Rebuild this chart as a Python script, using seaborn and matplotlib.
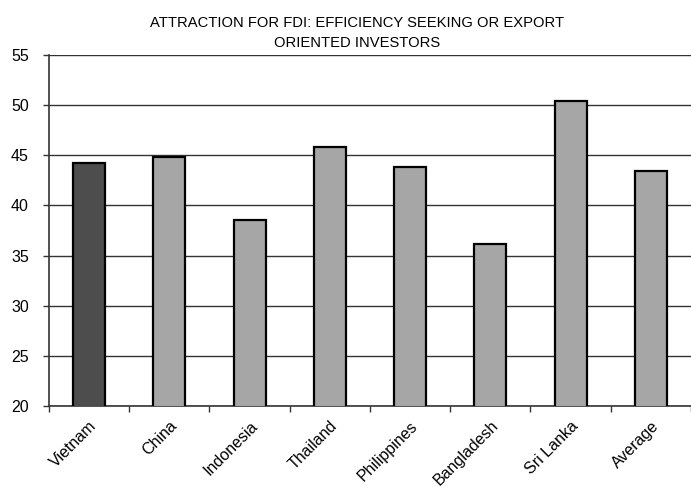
import matplotlib
matplotlib.use("Agg")
import matplotlib.pyplot as plt
import pandas as pd
import seaborn as sns

countries = ["Vietnam", "China", "Indonesia", "Thailand", "Philippines",
             "Bangladesh", "Sri Lanka", "Average"]
scores = [44.2, 44.8, 38.6, 45.8, 43.8, 36.2, 50.4, 43.4]
highlight = "Vietnam"

df = pd.DataFrame({"country": countries, "score": scores})

sns.set_style("white")
plt.rcParams["font.family"] = ["Liberation Sans", "DejaVu Sans"]
plt.rcParams["text.color"] = "black"
plt.rcParams["xtick.color"] = "black"
plt.rcParams["ytick.color"] = "black"

colors = {c: ("#4d4d4d" if c == highlight else "#a6a6a6") for c in countries}

fig = plt.figure(figsize=(6.91, 4.96), dpi=100)
ax = fig.add_axes([0.0709, 0.182, 0.9291, 0.7065])

sns.barplot(data=df, x="country", y="score", hue="country", palette=colors,
            legend=False, width=0.4, edgecolor="black", linewidth=1.6,
            zorder=3, ax=ax)

ax.set_ylim(20, 55)
ax.set_yticks(range(20, 56, 5))
ax.set_xlim(-0.5, len(countries) - 0.5)
ax.yaxis.grid(True, color="#333333", linewidth=1.0, zorder=0)
ax.set_axisbelow(True)

# category labels in the middle, tick marks between categories
ax.set_xticks(range(len(countries)))
ax.set_xticklabels(countries, rotation=45, ha="right", rotation_mode="anchor",
                   fontsize=11.5)
ax.set_xticks([i - 0.5 for i in range(len(countries) + 1)], minor=True)
ax.tick_params(axis="x", which="major", length=0, pad=9)
ax.tick_params(axis="x", which="minor", direction="out", length=4.5,
               width=1, color="#333333", bottom=True)
ax.tick_params(axis="y", direction="out", length=4.5, width=1,
               color="#333333", labelsize=11.5, pad=10, left=True)

for side in ["top", "right"]:
    ax.spines[side].set_visible(False)
for side in ["left", "bottom"]:
    ax.spines[side].set_color("#333333")
    ax.spines[side].set_linewidth(1.2)

ax.set_xlabel("")
ax.set_ylabel("")
ax.set_title("ATTRACTION FOR FDI: EFFICIENCY SEEKING OR EXPORT\nORIENTED INVESTORS",
             fontsize=10.6, pad=6, x=0.48, linespacing=1.5)

fig.savefig("out.png", dpi=100)
